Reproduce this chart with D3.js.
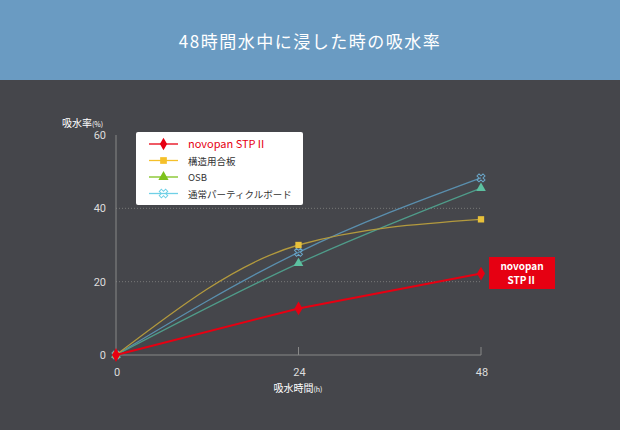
<!DOCTYPE html>
<html><head><meta charset="utf-8">
<script src="https://cdn.jsdelivr.net/npm/d3@7"></script>
<style>body{margin:0;background:#45464b;font-family:"Noto Sans CJK JP","Noto Sans",sans-serif}</style>
</head><body><svg width="620" height="430"></svg>
<script>
// data
var hours = [0, 24, 48];
var stp = [0, 12.7, 22.2];
var plywood = [0, 30, 37];
var osb = [0, 25, 45.5];
var particle = [0, 28, 48.3];
var yTicks = [0, 20, 40, 60];

var series = [
  {name: "novopan STPⅡ", vals: stp, line: "#e60012", mark: "#e60012", sym: d3.symbolDiamond, curve: d3.curveLinear, w: 2},
  {name: "構造用合板", vals: plywood, line: "#b39a3e", mark: "#e8c13a", sym: d3.symbolSquare, curve: d3.curveMonotoneX, w: 1.3},
  {name: "OSB", vals: osb, line: "#4f9c8a", mark: "#5cc0a0", sym: d3.symbolTriangle, curve: d3.curveMonotoneX, w: 1.3},
  {name: "通常パーティクルボード", vals: particle, line: "#5a8fae", mark: "#6aa6c8", sym: d3.symbolCross, curve: d3.curveMonotoneX, w: 1.3}
];
var legendMark = ["#e60012", "#f5c02a", "#7ec21c", "#6fd0e6"];

var svg = d3.select("svg");
svg.append("rect").attr("width", 620).attr("height", 80).attr("fill", "#6a9bc2");
svg.append("text").attr("x", 310).attr("y", 48).attr("text-anchor", "middle")
  .attr("fill", "#fff").attr("font-size", 17).attr("letter-spacing", 1.5).text("48時間水中に浸した時の吸水率");

var x = d3.scaleLinear().domain([0, 48]).range([116, 481]);
var y = d3.scaleLinear().domain([0, 60]).range([355, 135]);

// grid
svg.selectAll(".grid").data(yTicks.slice(1, 3)).enter().append("line")
  .attr("x1", x(0)).attr("x2", x(48)).attr("y1", d => y(d)).attr("y2", d => y(d))
  .attr("stroke", "#777", "stroke-width", 1).attr("stroke-dasharray", "1,2");
svg.append("line").attr("x1", x(0)).attr("x2", x(0)).attr("y1", y(60)).attr("y2", y(0)).attr("stroke", "#888");
svg.append("line").attr("x1", x(0)).attr("x2", x(48)).attr("y1", y(0)).attr("y2", y(0)).attr("stroke", "#888");
svg.selectAll(".vt").data([24, 48]).enter().append("line")
  .attr("x1", d => x(d)).attr("x2", d => x(d)).attr("y1", y(0) - 8).attr("y2", y(0)).attr("stroke", "#888");

svg.selectAll(".yl").data(yTicks).enter().append("text")
  .attr("x", 106).attr("y", d => y(d) + 4).attr("text-anchor", "end").attr("fill", "#ddd").attr("font-size", 11)
  .attr("font-family", "Roboto").text(d => d);
svg.selectAll(".xl").data(hours).enter().append("text")
  .attr("x", d => x(d) + 1).attr("y", 376).attr("text-anchor", "middle").attr("fill", "#ddd").attr("font-size", 11)
  .attr("font-family", "Roboto").text(d => d);
var yt = svg.append("text").attr("x", 62).attr("y", 127).attr("fill", "#fff").attr("font-size", 10);
yt.append("tspan").text("吸水率");
yt.append("tspan").attr("font-size", 7).text("(%)");
var xt = svg.append("text").attr("x", 298).attr("y", 392).attr("text-anchor", "middle").attr("fill", "#fff").attr("font-size", 10);
xt.append("tspan").text("吸水時間");
xt.append("tspan").attr("font-size", 7).text("(h)");

// lines, red on top
series.slice().reverse().forEach(function(s) {
  var line = d3.line().x((d, i) => x(hours[i])).y(d => y(d)).curve(s.curve);
  svg.append("path").attr("d", line(s.vals)).attr("fill", "none").attr("stroke", s.line).attr("stroke-width", s.w);
  svg.selectAll(null).data(s.vals).enter().append("path")
    .attr("transform", (d, i) => "translate(" + x(hours[i]) + "," + y(d) + ")" + (s.sym === d3.symbolCross ? " rotate(45)" : ""))
    .attr("d", d3.symbol().type(s.sym === d3.symbolCross ? d3.symbolCross : s.sym).size(s.sym === d3.symbolDiamond ? 55 : 40))
    .attr("fill", s.sym === d3.symbolCross ? "none" : s.mark)
    .attr("stroke", s.sym === d3.symbolCross ? s.mark : "none");
});

// label box
svg.append("rect").attr("x", 489).attr("y", 257).attr("width", 66).attr("height", 32).attr("fill", "#e60012");
svg.append("text").attr("x", 522).attr("y", 270).attr("text-anchor", "middle").attr("fill", "#fff").attr("font-size", 10).attr("font-weight", "bold").text("novopan");
svg.append("text").attr("x", 522).attr("y", 284).attr("text-anchor", "middle").attr("fill", "#fff").attr("font-size", 10).attr("font-weight", "bold").text("STPⅡ");

// legend
var lg = svg.append("g").attr("transform", "translate(136,132)");
lg.append("rect").attr("width", 167).attr("height", 73).attr("rx", 2).attr("fill", "#fff");
series.forEach(function(s, i) {
  var g = lg.append("g").attr("transform", "translate(0," + (12 + i * 16.5) + ")");
  g.append("line").attr("x1", 13).attr("x2", 42).attr("stroke", legendMark[i]).attr("stroke-width", 1.3);
  g.append("path").attr("transform", "translate(27.5,0)" + (s.sym === d3.symbolCross ? " rotate(45)" : ""))
    .attr("d", d3.symbol().type(s.sym).size(45))
    .attr("fill", s.sym === d3.symbolCross ? "none" : legendMark[i])
    .attr("stroke", s.sym === d3.symbolCross ? legendMark[i] : "none");
  g.append("text").attr("x", 52).attr("y", 4).attr("font-size", i === 0 ? 11 : 9.5)
    .attr("fill", i === 0 ? "#e60012" : "#333").text(s.name);
});
</script></body></html>
